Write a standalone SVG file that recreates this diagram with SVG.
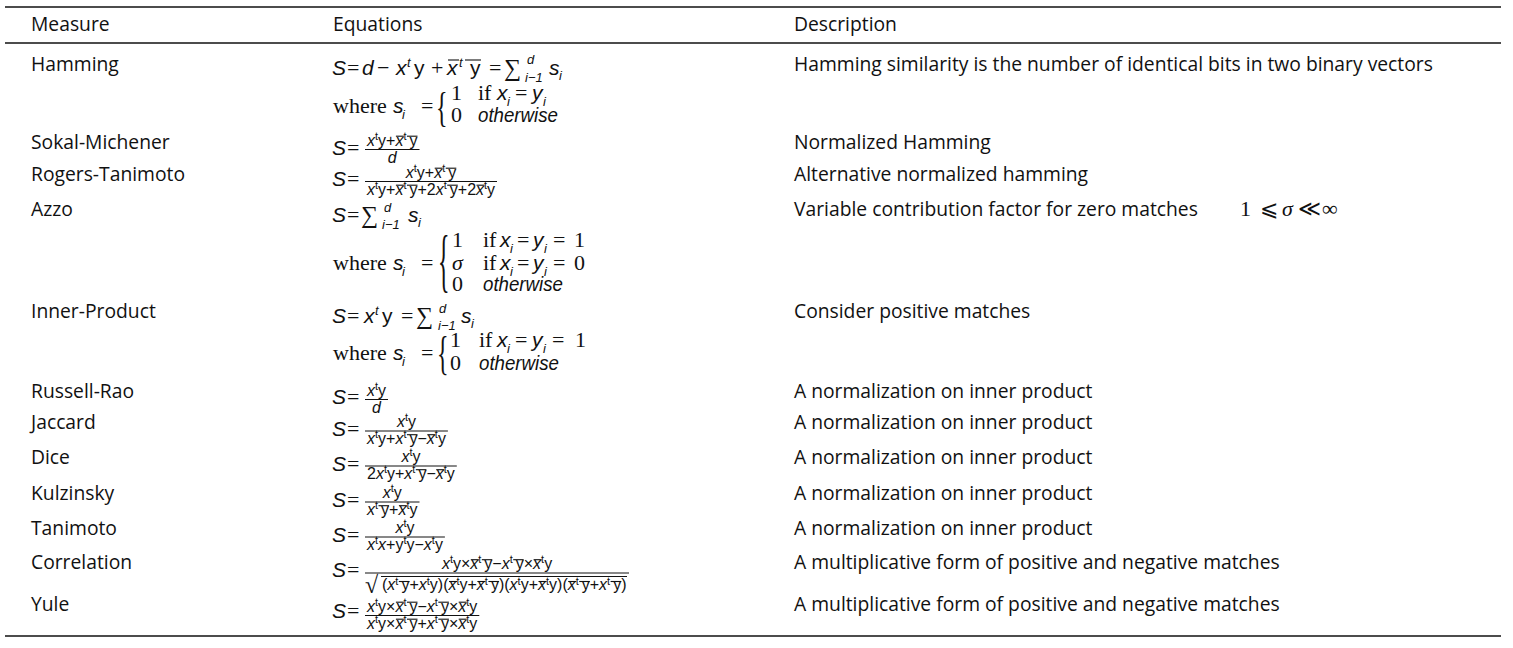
<svg xmlns="http://www.w3.org/2000/svg" width="1513" height="648" viewBox="0 0 1513 648">
<style>
text{fill:#111}
.t{font-family:"Open Sans","Liberation Sans",sans-serif;font-size:19.3px}
.m{font-family:"Liberation Serif","DejaVu Serif",serif;font-size:22px}
.v{font-family:"Liberation Sans",sans-serif;font-style:italic;font-size:21px}
.u{font-family:"Liberation Sans",sans-serif;font-size:21px}
.sm{font-size:13px}
.sg{font-size:24px}
.br{font-size:24px}
.f{font-family:"Liberation Sans",sans-serif;font-size:16px}
.i{font-style:italic}
.su{font-size:11px}
.rule{stroke:#111;stroke-width:1.3}
.fb{stroke:#111;stroke-width:1}
.ob{stroke:#111;stroke-width:1.1}
</style>
<rect width="1513" height="648" fill="#fff"/>
<g id="rules">
<line class="rule" x1="5" y1="7" x2="1501" y2="7"/>
<line class="rule" x1="5" y1="43" x2="1501" y2="43"/>
<line class="rule" x1="5" y1="636" x2="1501" y2="636"/>
</g>
<g id="header">
<text class="t" x="31" y="31">Measure</text>
<text class="t" x="333" y="31">Equations</text>
<text class="t" x="794" y="31">Description</text>
</g>

<g id="row-hamming">
<text class="t" x="31" y="71">Hamming</text>
<text class="t" x="794" y="71">Hamming similarity is the number of identical bits in two binary vectors</text>
<text class="v" x="332" y="75">S</text>
<text class="m" x="347" y="75">=</text>
<text class="v" x="362" y="75">d</text>
<text class="m" x="377" y="75">−</text>
<text class="v" x="396" y="75">x</text>
<text class="v sm" x="407" y="67">t</text>
<text class="u" x="414" y="75">y</text>
<text class="m" x="431" y="75">+</text>
<text class="v" x="447" y="75">x</text>
<text class="v sm" x="459" y="67">t</text>
<text class="u" x="470" y="75">y</text>
<line class="ob" x1="448" y1="60" x2="459" y2="60"/>
<line class="ob" x1="465" y1="60" x2="481" y2="60"/>
<text class="m" x="489" y="75">=</text>
<text class="m sg" x="504" y="76">∑</text>
<text class="v sm" x="527" y="64">d</text>
<text class="v sm" x="525" y="82">i−1</text>
<text class="v" x="549" y="75">s</text>
<text class="v sm" x="559" y="80">i</text>
<text class="m" x="333" y="113">where</text>
<text class="v" x="393" y="113">s</text>
<text class="v sm" x="402" y="119">i</text>
<text class="m" x="421" y="113">=</text>
<text class="m br" transform="translate(436,120.5) scale(1,1.757)" x="0" y="0">{</text>
<text class="m" x="451" y="100">1</text>
<text class="m" x="478" y="100">if</text>
<text class="v" x="497" y="100">x</text>
<text class="v sm" x="507" y="106">i</text>
<text class="m" x="515" y="100">=</text>
<text class="v" x="532" y="100">y</text>
<text class="v sm" x="543" y="106">i</text>
<text class="m" x="451" y="122">0</text>
<text class="v" x="478" y="122" textLength="80" lengthAdjust="spacingAndGlyphs">otherwise</text>
</g>

<g id="row-sokal-michener">
<text class="t" x="31" y="149">Sokal-Michener</text>
<text class="t" x="794" y="149">Normalized Hamming</text>
<text class="v" x="332" y="155">S</text>
<text class="m" x="347" y="155">=</text>
<line class="fb" x1="365" y1="149.5" x2="419.5" y2="149.5"/>
<text class="f" x="367" y="145.5"><tspan class="i">x</tspan><tspan class="su" dy="-6">t</tspan><tspan dy="6">y</tspan>+<tspan class="i">x</tspan><tspan class="su" dy="-6">t</tspan><tspan dy="6" dx="3">y</tspan></text>
<line class="ob" x1="395.9" y1="136.2" x2="403.9" y2="136.2"/>
<line class="ob" x1="406.9" y1="136.2" x2="417.5" y2="136.2"/>
<text class="f i" x="387.8" y="162.5">d</text>
</g>

<g id="row-rogers-tanimoto">
<text class="t" x="31" y="181">Rogers-Tanimoto</text>
<text class="t" x="794" y="181">Alternative normalized hamming</text>
<text class="v" x="332" y="186">S</text>
<text class="m" x="347" y="186">=</text>
<line class="fb" x1="365" y1="181.5" x2="497" y2="181.5"/>
<text class="f" x="405.8" y="177.5"><tspan class="i">x</tspan><tspan class="su" dy="-6">t</tspan><tspan dy="6">y</tspan>+<tspan class="i">x</tspan><tspan class="su" dy="-6">t</tspan><tspan dy="6" dx="3">y</tspan></text>
<line class="ob" x1="434.7" y1="168.2" x2="442.7" y2="168.2"/>
<line class="ob" x1="445.7" y1="168.2" x2="456.3" y2="168.2"/>
<text class="f" x="367" y="194.5"><tspan class="i">x</tspan><tspan class="su" dy="-6">t</tspan><tspan dy="6">y</tspan>+<tspan class="i">x</tspan><tspan class="su" dy="-6">t</tspan><tspan dy="6" dx="3">y</tspan>+2<tspan class="i">x</tspan><tspan class="su" dy="-6">t</tspan><tspan dy="6" dx="3">y</tspan>+2<tspan class="i">x</tspan><tspan class="su" dy="-6">t</tspan><tspan dy="6">y</tspan></text>
<line class="ob" x1="395.9" y1="185.2" x2="403.9" y2="185.2"/>
<line class="ob" x1="406.9" y1="185.2" x2="417.5" y2="185.2"/>
<line class="ob" x1="447.2" y1="185.2" x2="457.8" y2="185.2"/>
<line class="ob" x1="476.5" y1="185.2" x2="484.5" y2="185.2"/>
</g>

<g id="row-azzo">
<text class="t" x="31" y="216">Azzo</text>
<text class="t" x="794" y="216">Variable contribution factor for zero matches</text>
<text class="m" y="216"><tspan x="1240">1</tspan><tspan x="1260">⩽</tspan><tspan x="1282" font-style="italic">σ</tspan><tspan x="1298">≪</tspan><tspan x="1322">∞</tspan></text>
<text class="v" x="332" y="222">S</text>
<text class="m" x="347" y="222">=</text>
<text class="m sg" x="361" y="223">∑</text>
<text class="v sm" x="384" y="212">d</text>
<text class="v sm" x="382" y="229">i−1</text>
<text class="v" x="408" y="222">s</text>
<text class="v sm" x="418" y="227">i</text>
<text class="m" x="333" y="270">where</text>
<text class="v" x="393" y="270">s</text>
<text class="v sm" x="402" y="276">i</text>
<text class="m" x="421" y="270">=</text>
<text class="m br" transform="translate(438,284.4) scale(1,2.93)" x="0" y="0">{</text>
<text class="m" x="452" y="247">1</text>
<text class="m" x="452" y="270" font-style="italic">σ</text>
<text class="m" x="452" y="291">0</text>
<text class="m" x="483" y="247">if</text>
<text class="v" x="500" y="247">x</text>
<text class="v sm" x="510" y="253">i</text>
<text class="m" x="517" y="247">=</text>
<text class="v" x="533" y="247">y</text>
<text class="v sm" x="544" y="253">i</text>
<text class="m" x="553" y="247">=</text>
<text class="m" x="574" y="247">1</text>
<text class="m" x="483" y="270">if</text>
<text class="v" x="500" y="270">x</text>
<text class="v sm" x="510" y="276">i</text>
<text class="m" x="517" y="270">=</text>
<text class="v" x="533" y="270">y</text>
<text class="v sm" x="544" y="276">i</text>
<text class="m" x="553" y="270">=</text>
<text class="m" x="574" y="270">0</text>
<text class="v" x="483" y="291" textLength="80" lengthAdjust="spacingAndGlyphs">otherwise</text>
</g>

<g id="row-inner-product">
<text class="t" x="31" y="318">Inner-Product</text>
<text class="t" x="794" y="318">Consider positive matches</text>
<text class="v" x="332" y="323">S</text>
<text class="m" x="347" y="323">=</text>
<text class="v" x="364" y="323">x</text>
<text class="v sm" x="375" y="315">t</text>
<text class="u" x="382" y="323">y</text>
<text class="m" x="401" y="323">=</text>
<text class="m sg" x="416" y="324">∑</text>
<text class="v sm" x="439" y="313">d</text>
<text class="v sm" x="438" y="330">i−1</text>
<text class="v" x="461" y="323">s</text>
<text class="v sm" x="471" y="328">i</text>
<text class="m" x="333" y="360">where</text>
<text class="v" x="393" y="360">s</text>
<text class="v sm" x="402" y="366">i</text>
<text class="m" x="421" y="360">=</text>
<text class="m br" transform="translate(437,368.6) scale(1,1.95)" x="0" y="0">{</text>
<text class="m" x="450" y="347">1</text>
<text class="m" x="479" y="347">if</text>
<text class="v" x="497" y="347">x</text>
<text class="v sm" x="507" y="353">i</text>
<text class="m" x="515" y="347">=</text>
<text class="v" x="532" y="347">y</text>
<text class="v sm" x="543" y="353">i</text>
<text class="m" x="552" y="347">=</text>
<text class="m" x="575" y="347">1</text>
<text class="m" x="450" y="370">0</text>
<text class="v" x="479" y="370" textLength="80" lengthAdjust="spacingAndGlyphs">otherwise</text>
</g>

<g id="row-russell-rao">
<text class="t" x="31" y="398">Russell-Rao</text>
<text class="t" x="794" y="398">A normalization on inner product</text>
<text class="v" x="332" y="404">S</text>
<text class="m" x="347" y="404">=</text>
<line class="fb" x1="365" y1="399.5" x2="388" y2="399.5"/>
<text class="f" x="367" y="395.5"><tspan class="i">x</tspan><tspan class="su" dy="-6">t</tspan><tspan dy="6">y</tspan></text>
<text class="f i" x="372.1" y="412.5">d</text>
</g>

<g id="row-jaccard">
<text class="t" x="31" y="429">Jaccard</text>
<text class="t" x="794" y="429">A normalization on inner product</text>
<text class="v" x="332" y="436">S</text>
<text class="m" x="347" y="436">=</text>
<line class="fb" x1="365" y1="431" x2="447.9" y2="431"/>
<text class="f" x="396.9" y="427"><tspan class="i">x</tspan><tspan class="su" dy="-6">t</tspan><tspan dy="6">y</tspan></text>
<text class="f" x="367" y="444"><tspan class="i">x</tspan><tspan class="su" dy="-6">t</tspan><tspan dy="6">y</tspan>+<tspan class="i">x</tspan><tspan class="su" dy="-6">t</tspan><tspan dy="6" dx="3">y</tspan>−<tspan class="i">x</tspan><tspan class="su" dy="-6">t</tspan><tspan dy="6">y</tspan></text>
<line class="ob" x1="406.9" y1="434.7" x2="417.5" y2="434.7"/>
<line class="ob" x1="427.3" y1="434.7" x2="435.3" y2="434.7"/>
</g>

<g id="row-dice">
<text class="t" x="31" y="464">Dice</text>
<text class="t" x="794" y="464">A normalization on inner product</text>
<text class="v" x="332" y="471">S</text>
<text class="m" x="347" y="471">=</text>
<line class="fb" x1="365" y1="466" x2="456.8" y2="466"/>
<text class="f" x="401.4" y="462"><tspan class="i">x</tspan><tspan class="su" dy="-6">t</tspan><tspan dy="6">y</tspan></text>
<text class="f" x="367" y="479">2<tspan class="i">x</tspan><tspan class="su" dy="-6">t</tspan><tspan dy="6">y</tspan>+<tspan class="i">x</tspan><tspan class="su" dy="-6">t</tspan><tspan dy="6" dx="3">y</tspan>−<tspan class="i">x</tspan><tspan class="su" dy="-6">t</tspan><tspan dy="6">y</tspan></text>
<line class="ob" x1="415.8" y1="469.7" x2="426.4" y2="469.7"/>
<line class="ob" x1="436.2" y1="469.7" x2="444.2" y2="469.7"/>
</g>

<g id="row-kulzinsky">
<text class="t" x="31" y="500">Kulzinsky</text>
<text class="t" x="794" y="500">A normalization on inner product</text>
<text class="v" x="332" y="507">S</text>
<text class="m" x="347" y="507">=</text>
<line class="fb" x1="365" y1="502" x2="419.5" y2="502"/>
<text class="f" x="382.7" y="498"><tspan class="i">x</tspan><tspan class="su" dy="-6">t</tspan><tspan dy="6">y</tspan></text>
<text class="f" x="367" y="515"><tspan class="i">x</tspan><tspan class="su" dy="-6">t</tspan><tspan dy="6" dx="3">y</tspan>+<tspan class="i">x</tspan><tspan class="su" dy="-6">t</tspan><tspan dy="6">y</tspan></text>
<line class="ob" x1="378.5" y1="505.7" x2="389.1" y2="505.7"/>
<line class="ob" x1="398.9" y1="505.7" x2="406.9" y2="505.7"/>
</g>

<g id="row-tanimoto">
<text class="t" x="31" y="535">Tanimoto</text>
<text class="t" x="794" y="535">A normalization on inner product</text>
<text class="v" x="332" y="542">S</text>
<text class="m" x="347" y="542">=</text>
<line class="fb" x1="365" y1="537" x2="444.9" y2="537"/>
<text class="f" x="395.4" y="533"><tspan class="i">x</tspan><tspan class="su" dy="-6">t</tspan><tspan dy="6">y</tspan></text>
<text class="f" x="367" y="550"><tspan class="i">x</tspan><tspan class="su" dy="-6">t</tspan><tspan class="i" dy="6">x</tspan>+y<tspan class="su" dy="-6">t</tspan><tspan dy="6">y</tspan>−<tspan class="i">x</tspan><tspan class="su" dy="-6">t</tspan><tspan dy="6">y</tspan></text>
</g>

<g id="row-correlation">
<text class="t" x="31" y="569">Correlation</text>
<text class="t" x="794" y="569">A multiplicative form of positive and negative matches</text>
<text class="v" x="332" y="577">S</text>
<text class="m" x="347" y="577">=</text>
<line class="fb" x1="365" y1="573" x2="629" y2="573"/>
<text class="f" x="441.9" y="569"><tspan class="i">x</tspan><tspan class="su" dy="-6">t</tspan><tspan dy="6">y</tspan>×<tspan class="i">x</tspan><tspan class="su" dy="-6">t</tspan><tspan dy="6" dx="3">y</tspan>−<tspan class="i">x</tspan><tspan class="su" dy="-6">t</tspan><tspan dy="6" dx="3">y</tspan>×<tspan class="i">x</tspan><tspan class="su" dy="-6">t</tspan><tspan dy="6">y</tspan></text>
<line class="ob" x1="470.8" y1="559.7" x2="478.8" y2="559.7"/>
<line class="ob" x1="481.8" y1="559.7" x2="492.3" y2="559.7"/>
<line class="ob" x1="513.2" y1="559.7" x2="523.7" y2="559.7"/>
<line class="ob" x1="533.6" y1="559.7" x2="541.6" y2="559.7"/>
<text class="m" x="365" y="593" style="font-size:24px">√</text>
<line class="fb" x1="381" y1="576.5" x2="627" y2="576.5"/>
<text class="f" x="382" y="590">(<tspan class="i">x</tspan><tspan class="su" dy="-5">t</tspan><tspan dy="5" dx="3">y</tspan>+<tspan class="i">x</tspan><tspan class="su" dy="-5">t</tspan><tspan dy="5">y</tspan>)(<tspan class="i">x</tspan><tspan class="su" dy="-5">t</tspan><tspan dy="5">y</tspan>+<tspan class="i">x</tspan><tspan class="su" dy="-5">t</tspan><tspan dy="5" dx="3">y</tspan>)(<tspan class="i">x</tspan><tspan class="su" dy="-5">t</tspan><tspan dy="5">y</tspan>+<tspan class="i">x</tspan><tspan class="su" dy="-5">t</tspan><tspan dy="5">y</tspan>)(<tspan class="i">x</tspan><tspan class="su" dy="-5">t</tspan><tspan dy="5" dx="3">y</tspan>+<tspan class="i">x</tspan><tspan class="su" dy="-5">t</tspan><tspan dy="5" dx="3">y</tspan>)</text>
<line class="ob" x1="398.8" y1="581.5" x2="409.4" y2="581.5"/>
<line class="ob" x1="449" y1="581.5" x2="457" y2="581.5"/>
<line class="ob" x1="477.4" y1="581.5" x2="485.4" y2="581.5"/>
<line class="ob" x1="488.4" y1="581.5" x2="498.9" y2="581.5"/>
<line class="ob" x1="538.5" y1="581.5" x2="546.5" y2="581.5"/>
<line class="ob" x1="568.2" y1="581.5" x2="576.2" y2="581.5"/>
<line class="ob" x1="579.2" y1="581.5" x2="589.8" y2="581.5"/>
<line class="ob" x1="610.6" y1="581.5" x2="621.2" y2="581.5"/>
</g>

<g id="row-yule">
<text class="t" x="31" y="611">Yule</text>
<text class="t" x="794" y="611">A multiplicative form of positive and negative matches</text>
<text class="v" x="332" y="618">S</text>
<text class="m" x="347" y="618">=</text>
<line class="fb" x1="365" y1="615.5" x2="479.3" y2="615.5"/>
<text class="f" x="367" y="611.5"><tspan class="i">x</tspan><tspan class="su" dy="-6">t</tspan><tspan dy="6">y</tspan>×<tspan class="i">x</tspan><tspan class="su" dy="-6">t</tspan><tspan dy="6" dx="3">y</tspan>−<tspan class="i">x</tspan><tspan class="su" dy="-6">t</tspan><tspan dy="6" dx="3">y</tspan>×<tspan class="i">x</tspan><tspan class="su" dy="-6">t</tspan><tspan dy="6">y</tspan></text>
<line class="ob" x1="395.9" y1="602.2" x2="403.9" y2="602.2"/>
<line class="ob" x1="406.9" y1="602.2" x2="417.5" y2="602.2"/>
<line class="ob" x1="438.3" y1="602.2" x2="448.9" y2="602.2"/>
<line class="ob" x1="458.7" y1="602.2" x2="466.7" y2="602.2"/>
<text class="f" x="367" y="628.5"><tspan class="i">x</tspan><tspan class="su" dy="-6">t</tspan><tspan dy="6">y</tspan>×<tspan class="i">x</tspan><tspan class="su" dy="-6">t</tspan><tspan dy="6" dx="3">y</tspan>+<tspan class="i">x</tspan><tspan class="su" dy="-6">t</tspan><tspan dy="6" dx="3">y</tspan>×<tspan class="i">x</tspan><tspan class="su" dy="-6">t</tspan><tspan dy="6">y</tspan></text>
<line class="ob" x1="395.9" y1="619.2" x2="403.9" y2="619.2"/>
<line class="ob" x1="406.9" y1="619.2" x2="417.5" y2="619.2"/>
<line class="ob" x1="438.3" y1="619.2" x2="448.9" y2="619.2"/>
<line class="ob" x1="458.7" y1="619.2" x2="466.7" y2="619.2"/>
</g>
</svg>
